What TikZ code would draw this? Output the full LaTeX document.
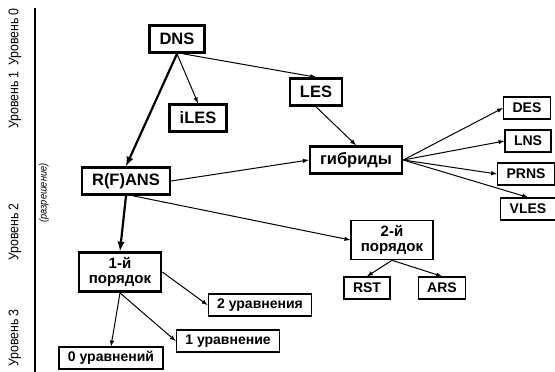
\documentclass[tikz,border=0pt]{standalone}
\usepackage{fontspec}
\setmainfont{Liberation Sans}
\newfontfamily\narrowfont[FakeStretch=0.88]{Liberation Sans}
\begin{document}
\begin{tikzpicture}[x=1pt,y=-1pt]
\tikzset{big/.style = {draw, line width=2.6pt, font=\bfseries\fontsize{16.5}{17}\selectfont, inner xsep=10pt, minimum height=27pt}}
\tikzset{small/.style = {draw, line width=1.3pt, font=\bfseries\fontsize{14}{15}\selectfont, inner xsep=9pt, minimum height=22pt}}
\tikzset{order/.style = {align=center, font=\bfseries\fontsize{15}{15}\selectfont, inner xsep=10pt, inner ysep=5pt}}
\tikzset{level/.style = {rotate=90, font=\narrowfont\fontsize{14}{15}\selectfont}}
\tikzset{edge/.style = {->,> = latex, line width=1pt}}
\tikzset{mainedge/.style = {edge, line width=2.2pt}}
\useasboundingbox (0,0) rectangle (555,372);
% levels
\node[level] (l0) at (15,37) {Уровень 0};
\node[level] (l1) at (15,100) {Уровень 1};
\node[level] (l2) at (15,232) {Уровень 2};
\node[level] (l3) at (15,338) {Уровень 3};
\node[level, font=\narrowfont\itshape\fontsize{10.5}{11}\selectfont] (res) at (44,193) {(разрешение)};
\coordinate (top) at (35,8);
\coordinate (bottom) at (35,372);
\draw[line width=2pt] (top) -- (bottom);
% boxes
\node[big] (dns) at (177,39) {DNS};
\node[big] (iles) at (198,118) {iLES};
\node[big] (les) at (316,92) {LES};
\node[big] (hyb) at (356,160) {гибриды};
\node[big] (rans) at (126,181) {R(F)ANS};
\node[small] (des) at (527,108) {DES};
\node[small] (lns) at (528,141) {LNS};
\node[small] (prns) at (526,174) {PRNS};
\node[small] (vles) at (528,209) {VLES};
\node[small, order] (ord2) at (392,240) {2-й\\порядок};
\node[small] (rst) at (367,288) {RST};
\node[small] (ars) at (442,288) {ARS};
\node[big, order] (ord1) at (120,272) {1-й\\порядок};
\node[small] (eq2) at (260,305) {2 уравнения};
\node[small] (eq1) at (228,341) {1 уравнение};
\node[small] (eq0) at (111,358) {0 уравнений};
% arrows
\draw[edge] (dns.south) to (iles.north);
\draw[edge] ([xshift=6pt]dns.south) to (les.north);
\draw[mainedge] (dns.south) to (rans.north);
\draw[edge] (les.south) to (hyb.north);
\draw[edge] (rans.east) to (hyb.west);
\draw[edge] ([xshift=7pt]rans.south) to (ord2.west);
\draw[mainedge] (rans.south) to (ord1.north);
\foreach \n in {des,lns,prns}
  \draw[edge] (hyb.east) to (\n.west);
\draw[edge] (hyb.east) to (vles.north);
\draw[edge] (ord2.south) to (rst.north);
\draw[edge] (ord2.south) to (ars.north);
\draw[edge] (ord1.east) to (eq2.west);
\draw[edge] (ord1.south) to (eq1.west);
\draw[edge] (ord1.south) to (eq0.north);
\end{tikzpicture}
\end{document}
